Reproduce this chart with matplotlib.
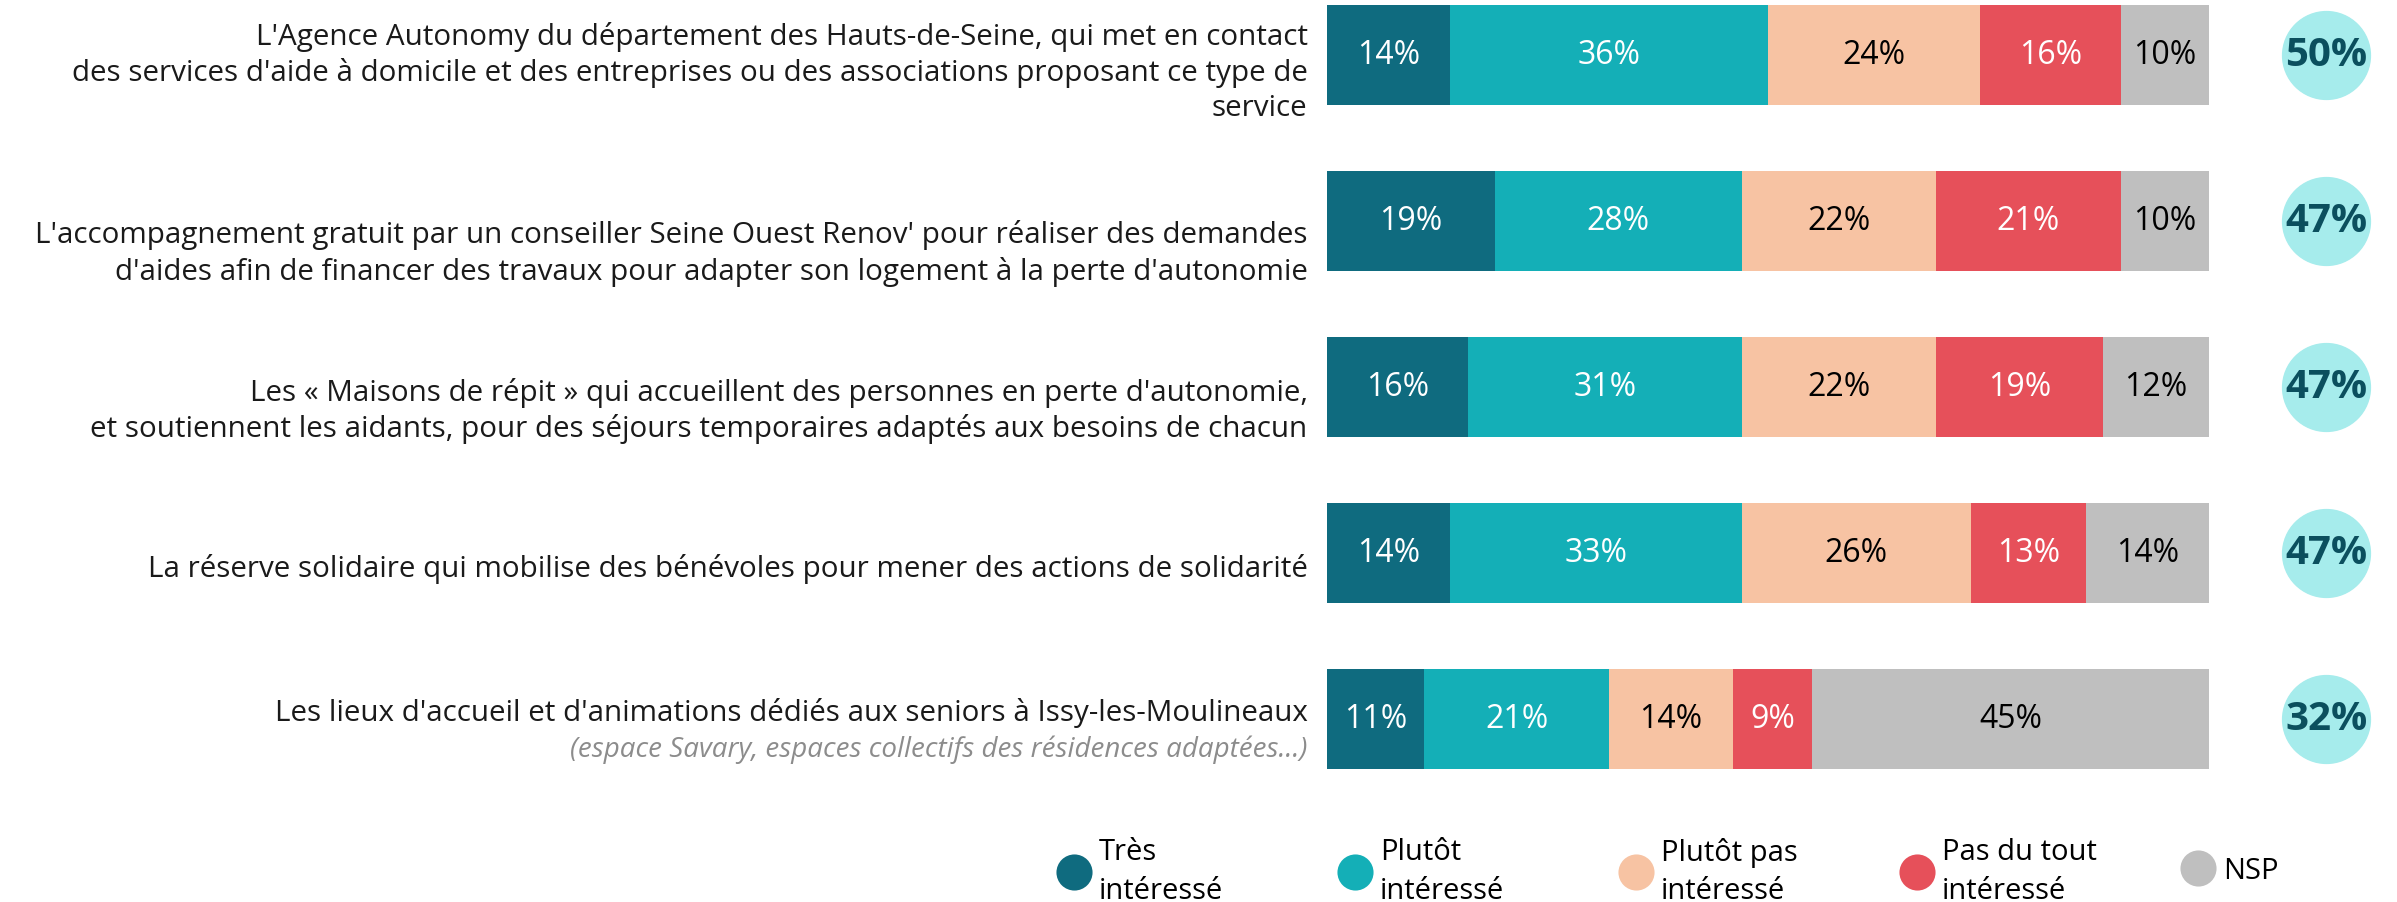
import matplotlib
matplotlib.use('Agg')
import matplotlib.pyplot as plt
from matplotlib.lines import Line2D

plt.rcParams['font.family'] = ['Open Sans', 'DejaVu Sans']

labels = [
    "L'Agence Autonomy du département des Hauts-de-Seine, qui met en contact\n"
    "des services d'aide à domicile et des entreprises ou des associations proposant ce type de\n"
    "service",
    "L'accompagnement gratuit par un conseiller Seine Ouest Renov' pour réaliser des demandes\n"
    "d'aides afin de financer des travaux pour adapter son logement à la perte d'autonomie",
    "Les « Maisons de répit » qui accueillent des personnes en perte d'autonomie,\n"
    "et soutiennent les aidants, pour des séjours temporaires adaptés aux besoins de chacun",
    "La réserve solidaire qui mobilise des bénévoles pour mener des actions de solidarité",
    "Les lieux d'accueil et d'animations dédiés aux seniors à Issy-les-Moulineaux",
]
sublabel = "(espace Savary, espaces collectifs des résidences adaptées...)"

categories = ["Très\nintéressé", "Plutôt\nintéressé", "Plutôt pas\nintéressé",
              "Pas du tout\nintéressé", "NSP"]
tres = [14, 19, 16, 14, 11]
plutot = [36, 28, 31, 33, 21]
plutot_pas = [24, 22, 22, 26, 14]
pas_du_tout = [16, 21, 19, 13, 9]
nsp = [10, 10, 12, 14, 45]
total_interesse = [50, 47, 47, 47, 32]

colors = ['#0F6B7F', '#14AFB7', '#F7C3A3', '#E6505A', '#BFBFBF']
text_colors = ['white', 'white', 'black', 'white', 'black']

W, H = 2397, 903
fig = plt.figure(figsize=(W / 100, H / 100), dpi=100)
# bars go from x=1327px to 2209px, row pitch 166px, first row centred at 56px
ax = fig.add_axes([1327 / W, 0, 882 / W, 1])
ax.set_xlim(0, 100)
ax.set_ylim((H - 56) / 166, -56 / 166)
ax.axis('off')

series = [tres, plutot, plutot_pas, pas_du_tout, nsp]
rows = range(len(labels))
left = [0] * len(labels)
for s, vals in enumerate(series):
    ax.barh(rows, vals, left=left, height=0.6, color=colors[s], edgecolor='none')
    for i, v in enumerate(vals):
        ax.text(left[i] + v / 2, i, f"{v}%", ha='center', va='center',
                fontsize=23, color=text_colors[s])
    left = [l + v for l, v in zip(left, vals)]

# labels on the left (slightly below bar centre, like the original)
label_dy = [0.10, 0.19, 0.14, 0.09, -0.04]
for i, lab in enumerate(labels):
    ax.text(-2.2, i + label_dy[i], lab, ha='right', va='center', fontsize=21.3,
            color='#1a1a1a', linespacing=1.27)
ax.text(-2.2, 4 + 0.18, sublabel, ha='right', va='center', fontsize=20,
        color='#8c8c8c', style='italic')

# total "intéressé" bubbles
ax.scatter([113.3] * len(total_interesse), rows, s=4000, color='#A6ECEC',
           clip_on=False, zorder=3)
for i, t in enumerate(total_interesse):
    ax.text(113.3, i, f"{t}%", ha='center', va='center', fontsize=29,
            fontweight='bold', color='#0B4F5E', zorder=4)

# legend: evenly spaced entries, one per category
for k, (c, cat) in enumerate(zip(colors, categories)):
    h = Line2D([], [], marker='o', linestyle='none', markersize=26,
               markerfacecolor=c, markeredgecolor='none')
    leg = fig.legend([h], [cat], loc='center left',
                     bbox_to_anchor=((1045 + 281 * k) / W, 1 - 872 / H),
                     frameon=False, fontsize=21, handletextpad=0.25,
                     handlelength=1.2, borderaxespad=0)
    for t in leg.get_texts():
        t.set_linespacing(1.45)

fig.savefig('out.png', dpi=100)
